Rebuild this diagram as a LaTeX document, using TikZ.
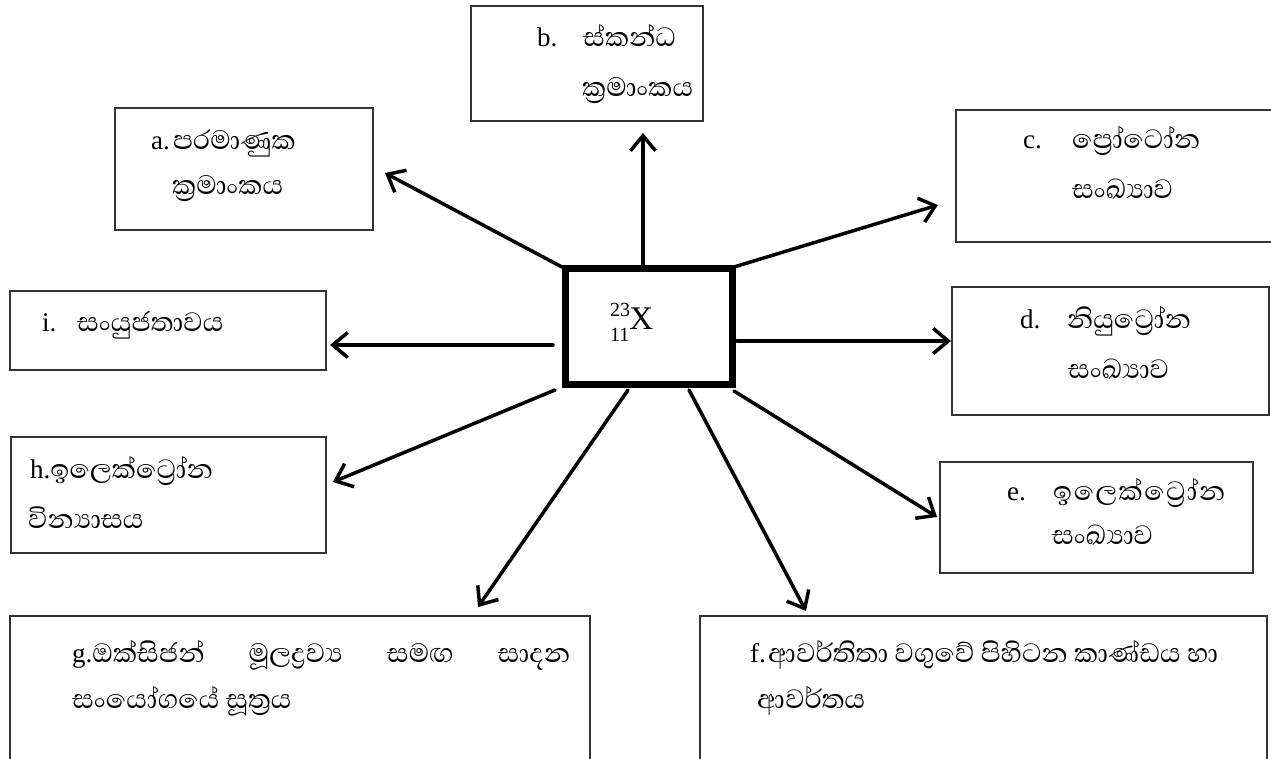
\documentclass[tikz,border=0pt]{standalone}
\usepackage{fontspec}
\setmainfont{Liberation Serif}
\newfontfamily\sinhfont[Script=Sinhala]{Abhaya Libre}
\usetikzlibrary{arrows.meta,fit}
\newcommand{\zwj}{^^^^200d}
\tikzset{
  box/.style={draw=black!80, line width=1.3pt, inner sep=0pt, outer sep=0pt},
  centerbox/.style={draw=black, line width=7pt, inner sep=0pt, outer sep=0pt},
  arr/.style={line width=3.5pt, line cap=round, -{Straight Barb[length=15pt,width=25pt]}},
  lat/.style={inner sep=0pt, anchor=base west, yshift=-2pt, font=\fontsize{27}{30}\selectfont},
  sin/.style={inner sep=0pt, anchor=base west, yshift=-2pt, font=\sinhfont\fontsize{34}{36}\selectfont},
}
\begin{document}
\begin{tikzpicture}[x=1pt,y=-1pt]
\useasboundingbox (0,0) rectangle (1271,759);
\fill[white] (0,0) rectangle (1271,759);
% boxes
\node[box, fit={(115,108) (373,230)}] (A) {};
\node[box, fit={(471,6) (703,121)}] (B) {};
\node[box, fit={(956,110) (1280,242)}] (C) {};
\node[box, fit={(952,287) (1269,415)}] (D) {};
\node[box, fit={(940,462) (1253,573)}] (E) {};
\node[box, fit={(700,616) (1267,770)}] (F) {};
\node[box, fit={(10,616) (590,770)}] (G) {};
\node[box, fit={(11,437) (326,553)}] (H) {};
\node[box, fit={(10,291) (326,370)}] (I) {};
\node[centerbox, fit={(565.5,268.5) (732.5,384.5)}] (X) {};
% centre text
\node[inner sep=0pt, anchor=base west, font=\fontsize{33}{33}\selectfont] (iso) at (610,329)
  {\rlap{\raisebox{13pt}{\fontsize{20}{20}\selectfont 23}}\raisebox{-12pt}{\fontsize{20}{20}\selectfont 11}X};
% texts
\node[lat] (aL) at (151,148) {a.};
\node[sin] (a1) at (173,148) {පරමාණුක};
\node[sin] (a2) at (172,193) {ක්\zwj රමාංකය};
\node[lat] (bL) at (537,45) {b.};
\node[sin] (b1) at (583,45) {ස්කන්ධ};
\node[sin] (b2) at (582,95) {ක්\zwj රමාංකය};
\node[lat] (cL) at (1023,147) {c.};
\node[sin] (c1) at (1072,147) {ප්\zwj රෝටෝන};
\node[sin] (c2) at (1072,197) {සංඛ්\zwj යාව};
\node[lat] (dL) at (1020,326) {d.};
\node[sin] (d1) at (1067,326) {නියුට්\zwj රෝන};
\node[sin] (d2) at (1068,376) {සංඛ්\zwj යාව};
\node[lat] (eL) at (1007,498) {e.};
\node[sin] (e1) at (1053,498) {\addfontfeatures{LetterSpace=4}ඉලෙක්ට්\zwj රෝන};
\node[sin] (e2) at (1052,542) {සංඛ්\zwj යාව};
\node[lat] (fL) at (750,660) {f.};
\node[sin] (f1) at (768,660) {ආවර්තිතා වගුවේ පිහිටන කාණ්ඩය හා};
\node[sin] (f2) at (757,706) {ආවර්තය};
\node[lat] (g1) at (72,660) {\makebox[498pt][l]{g.{\sinhfont\fontsize{34}{36}\selectfont ඔක්සිජන්\hfill මූලද්\zwj රව්\zwj ය\hfill සමඟ\hfill සාදන}}};
\node[sin] (g2) at (72,706) {සංයෝගයේ සූත්\zwj රය};
\node[lat] (hL) at (30,476) {h.{\sinhfont\fontsize{34}{36}\selectfont ඉලෙක්ට්\zwj රෝන}};
\node[sin] (h2) at (28,526) {වින්\zwj යාසය};
\node[lat] (iL) at (42,329) {i.};
\node[sin] (i1) at (77,329) {සංයුජතාවය};
% arrow coordinates
\coordinate (sA) at (562,267); \coordinate (tA) at (385,173);
\coordinate (sB) at (643,265); \coordinate (tB) at (643,133);
\coordinate (sC) at (734,267); \coordinate (tC) at (938,205);
\coordinate (sD) at (737,341); \coordinate (tD) at (951,341);
\coordinate (sE) at (734,391); \coordinate (tE) at (937,517);
\coordinate (sF) at (689,390); \coordinate (tF) at (806,611);
\coordinate (sG) at (628,390); \coordinate (tG) at (478,607);
\coordinate (sH) at (555,390); \coordinate (tH) at (333,482);
\coordinate (sI) at (553,345); \coordinate (tI) at (330,345);
\foreach \k in {A,B,C,D,E,F,G,H,I} { \draw[arr] (s\k) -- (t\k); }
\end{tikzpicture}
\end{document}
